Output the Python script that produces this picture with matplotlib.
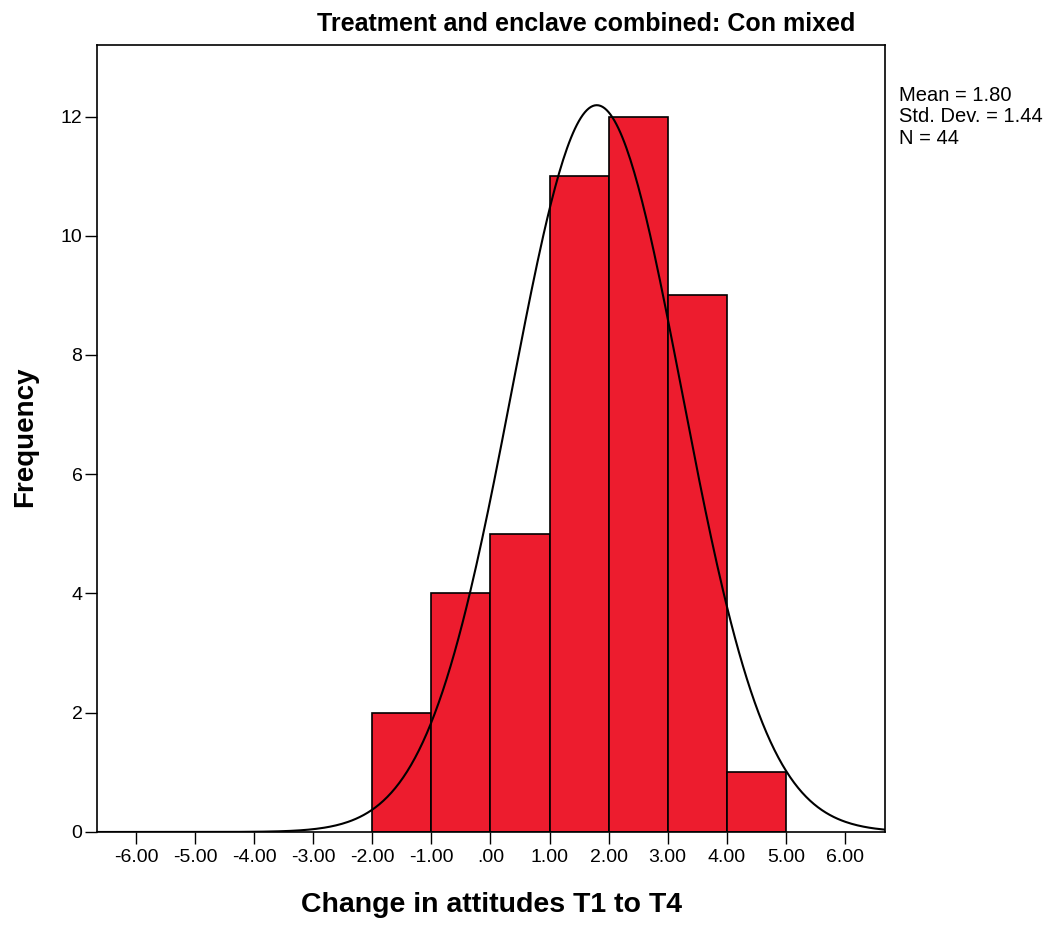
import numpy as np
import matplotlib.pyplot as plt
from matplotlib.ticker import FuncFormatter

plt.rcParams['font.family'] = ['Liberation Sans', 'DejaVu Sans']

# histogram bins and counts
bin_edges = [-2, -1, 0, 1, 2, 3, 4, 5]
counts = [2, 4, 5, 11, 12, 9, 1]
mean_val = 1.80
std_val = 1.44
n_val = 44
xticks = [-6, -5, -4, -3, -2, -1, 0, 1, 2, 3, 4, 5, 6]
yticks = [0, 2, 4, 6, 8, 10, 12]

fig = plt.figure(figsize=(10.56, 9.27), dpi=100)
ax = fig.add_axes([0.0919, 0.1025, 0.7462, 0.849])

lefts = bin_edges[:-1]
widths = np.diff(bin_edges)
ax.bar(lefts, counts, width=widths, align='edge', color='#ED1C2E',
       edgecolor='black', linewidth=1.2, zorder=2)

# normal curve scaled to the histogram
xs = np.linspace(-6.66, 6.68, 400)
bw = 1.0
ys = n_val * bw / (std_val * np.sqrt(2 * np.pi)) * np.exp(-0.5 * ((xs - mean_val) / std_val) ** 2)
ax.plot(xs, ys, color='black', linewidth=1.5, zorder=3)

ax.set_xlim(-6.66, 6.68)
ax.set_ylim(0, 13.2)
ax.set_xticks(xticks)
ax.set_yticks(yticks)

def fmt(v, pos):
    s = '%.2f' % v
    if s.startswith('0'):
        s = s[1:]
    if s == '-.00':
        s = '.00'
    return s

ax.xaxis.set_major_formatter(FuncFormatter(fmt))
ax.tick_params(axis='both', direction='out', length=8.5, width=1, labelsize=14, colors='black')
ax.tick_params(axis='x', pad=4)
ax.tick_params(axis='y', pad=2)
for sp in ax.spines.values():
    sp.set_linewidth(1.2)

ax.set_xlabel('Change in attitudes T1 to T4', fontsize=20.5, fontweight='bold')
ax.set_ylabel('Frequency', fontsize=20, fontweight='bold')
ax.xaxis.set_label_coords(0.5, -0.093)
ax.yaxis.set_label_coords(-0.091, 0.502)
ax.xaxis.label.set_va('center')
ax.yaxis.label.set_va('center')

fig.text(586 / 1056, 1 - 24 / 927, 'Treatment and enclave combined: Con mixed',
         ha='center', va='center', fontsize=18, fontweight='bold')
fig.text(899 / 1056, 1 - 86 / 927, 'Mean = 1.80\nStd. Dev. = 1.44\nN = 44',
         ha='left', va='top', fontsize=14.5, linespacing=1.15)

fig.savefig('out.png', dpi=100)
